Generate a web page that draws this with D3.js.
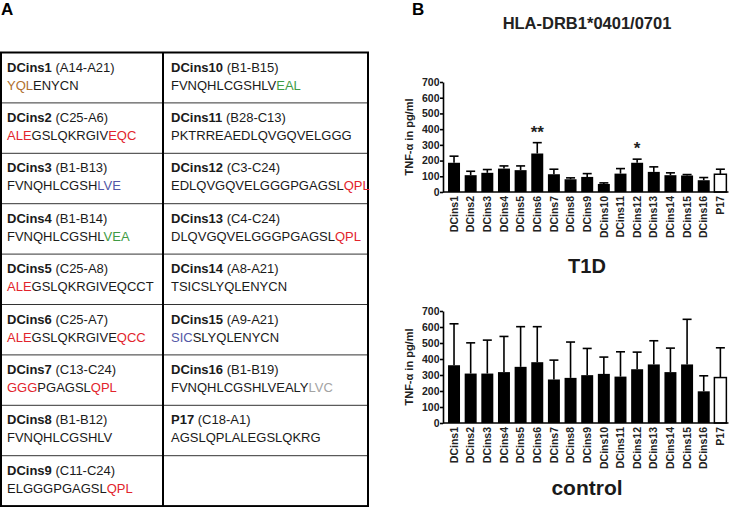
<!DOCTYPE html>
<html><head><meta charset="utf-8">
<script src="https://cdn.jsdelivr.net/npm/d3@7"></script>
<style>body{margin:0;background:#fff}svg{display:block}</style>
</head><body><svg id="c" width="733" height="507"></svg>
<script>
// ---------- data ----------
const categories = ["DCins1","DCins2","DCins3","DCins4","DCins5","DCins6","DCins7","DCins8","DCins9","DCins10","DCins11","DCins12","DCins13","DCins14","DCins15","DCins16","P17"];
const t1dMean   = [186,107,122,149,139,245,113,81,96,51,117,186,128,107,105,75,113];
const t1dUpper  = [228,132,143,166,166,314,145,90,117,58,149,209,160,122,111,92,145];
const controlMean  = [361,309,309,318,351,380,272,282,299,307,290,336,366,318,366,198,284];
const controlUpper = [620,501,518,541,602,602,393,506,466,412,445,443,514,468,648,295,470];
const yTicks = [0,100,200,300,400,500,600,700];
const t1dStars = [["DCins6","**"],["DCins12","*"]];
const openBars = ["P17"];

const peptideNames  = ["DCins1","DCins2","DCins3","DCins4","DCins5","DCins6","DCins7","DCins8","DCins9",
                       "DCins10","DCins11","DCins12","DCins13","DCins14","DCins15","DCins16","P17"];
const peptideRanges = ["(A14-A21)","(C25-A6)","(B1-B13)","(B1-B14)","(C25-A8)","(C25-A7)","(C13-C24)","(B1-B12)","(C11-C24)",
                       "(B1-B15)","(B28-C13)","(C3-C24)","(C4-C24)","(A8-A21)","(A9-A21)","(B1-B19)","(C18-A1)"];
// segments "text|colourcode"
const peptideSeqs = [
  "YQL|o,ENYCN","ALE|r,GSLQKRGIV,EQC|r","FVNQHLCGSH,LVE|b","FVNQHLCGSHL,VEA|g","ALE|r,GSLQKRGIVEQCCT",
  "ALE|r,GSLQKRGIVE,QCC|r","GGG|r,PGAGSL,QPL|r","FVNQHLCGSHLV","ELGGGPGAGSL,QPL|r",
  "FVNQHLCGSHLV,EAL|g","PKTRREAEDLQVGQVELGGG","EDLQVGQVELGGGPGAGSL,QPL|r","DLQVGQVELGGGPGAGSL,QPL|r",
  "TSICSLYQLENYCN","SIC|b,SLYQLENYCN","FVNQHLCGSHLVEALY,LVC|x","AGSLQPLALEGSLQKRG"
];
const colourCodes = {k:"#1a1a1a", o:"#b0702e", r:"#e2242c", b:"#5358a6", g:"#3f9b45", x:"#a3a3a3"};

// ---------- drawing ----------
const svg = d3.select("#c");
svg.append("rect").attr("width",733).attr("height",507).attr("fill","#fff");
const FONT = "'Liberation Sans', Arial, Helvetica, sans-serif";

svg.append("text").attr("x",1).attr("y",15).text("A")
  .attr("font-family",FONT).attr("font-weight","bold").attr("font-size",17);
svg.append("text").attr("x",412).attr("y",15).text("B")
  .attr("font-family",FONT).attr("font-weight","bold").attr("font-size",17);

// ---------- table ----------
const tbl = svg.append("g");
const tX0 = 1, tX1 = 368, tMid = 163, tY0 = 52.5, rowH = 50.4, nRows = 9;
const rowY = d3.range(nRows+1).map(i => tY0 + i*rowH);
rowY.slice(1,-1).forEach(y => tbl.append("line").attr("x1",tX0).attr("x2",tX1).attr("y1",y).attr("y2",y)
  .attr("stroke","#333").attr("stroke-width",1));
tbl.append("rect").attr("x",tX0).attr("y",tY0).attr("width",tX1-tX0).attr("height",rowY[nRows]-tY0)
  .attr("fill","none").attr("stroke","#000").attr("stroke-width",2);
tbl.append("line").attr("x1",tMid).attr("x2",tMid).attr("y1",tY0).attr("y2",rowY[nRows])
  .attr("stroke","#000").attr("stroke-width",2);

peptideNames.forEach((name,i) => {
  const col = i < nRows ? 0 : 1;
  const row = i < nRows ? i : i - nRows;
  const x = col === 0 ? 7 : 171;
  const y = rowY[row];
  const t = tbl.append("text").attr("x",x).attr("y",y+19)
    .attr("font-family",FONT).attr("font-size",13).attr("fill","#1a1a1a");
  t.append("tspan").attr("font-weight","bold").text(name);
  t.append("tspan").text(" " + peptideRanges[i]);
  const s = tbl.append("text").attr("x",x).attr("y",y+37)
    .attr("font-family",FONT).attr("font-size",13);
  peptideSeqs[i].split(",").forEach(seg => {
    const [txt,code] = seg.split("|");
    s.append("tspan").text(txt).attr("fill",colourCodes[code||"k"]);
  });
});

// ---------- charts ----------
svg.append("text").attr("x",587).attr("y",29).attr("text-anchor","middle").text("HLA-DRB1*0401/0701")
  .attr("font-family",FONT).attr("font-weight","bold").attr("font-size",16.5).attr("fill","#222");

const x = d3.scaleBand().domain(categories).range([445.7,728.7]).paddingInner(0.28).paddingOuter(0.14);

function drawChart(means, uppers, y0, y1, stars){
  const y = d3.scaleLinear().domain([0,700]).range([y0,y1]);
  const g = svg.append("g");
  const data = categories.map((c,i)=>({c, m:means[i], u:uppers[i]}));
  data.forEach(d => {
    const cx = x(d.c) + x.bandwidth()/2;
    g.append("line").attr("x1",cx).attr("x2",cx).attr("y1",y(d.m)).attr("y2",y(d.u))
      .attr("stroke","#000").attr("stroke-width",1.6);
    g.append("line").attr("x1",cx-4.5).attr("x2",cx+4.5).attr("y1",y(d.u)).attr("y2",y(d.u))
      .attr("stroke","#000").attr("stroke-width",1.6);
  });
  g.selectAll("rect.bar").data(data).enter().append("rect")
    .attr("x",d=>x(d.c)).attr("width",x.bandwidth())
    .attr("y",d=>y(d.m)).attr("height",d=>y(0)-y(d.m))
    .attr("fill",d=>openBars.includes(d.c)?"#fff":"#000")
    .attr("stroke","#000").attr("stroke-width",d=>openBars.includes(d.c)?1.5:0);
  const ya = g.append("g").attr("transform","translate(443,0)")
    .call(d3.axisLeft(y).tickValues(yTicks).tickSize(3).tickSizeOuter(0).tickFormat(d3.format("d")));
  ya.select(".domain").attr("stroke-width",1.6);
  ya.selectAll(".tick line").attr("stroke-width",1.6);
  ya.selectAll("text").attr("font-family",FONT).attr("font-weight","bold").attr("font-size",10.5)
    .attr("x",-3.5).attr("fill","#222");
  const xa = g.append("g").attr("transform",`translate(0,${y0})`)
    .call(d3.axisBottom(x).tickSize(0).tickSizeOuter(0));
  xa.select(".domain").attr("stroke-width",1.6).attr("d",`M443,0H728.5`);
  xa.selectAll("text").attr("font-family",FONT).attr("font-weight","bold").attr("font-size",10.5)
    .attr("fill","#222")
    .attr("transform","rotate(-90)").attr("text-anchor","end")
    .attr("x",-4).attr("y",0).attr("dy","0.35em");
  g.append("text").attr("transform",`translate(413,${(y0+y1)/2}) rotate(-90)`)
    .attr("text-anchor","middle").text("TNF-α in pg/ml")
    .attr("font-family",FONT).attr("font-weight","bold").attr("font-size",11).attr("fill","#222");
  (stars||[]).forEach(([c,lab]) => {
    const i = categories.indexOf(c);
    g.append("text").attr("x",x(c)+x.bandwidth()/2).attr("y",y(uppers[i])-5)
      .attr("text-anchor","middle").text(lab)
      .attr("font-family",FONT).attr("font-weight","bold").attr("font-size",17).attr("fill","#222");
  });
}

drawChart(t1dMean, t1dUpper, 192, 82, t1dStars);
drawChart(controlMean, controlUpper, 423, 311, []);

svg.append("text").attr("x",587).attr("y",273).attr("text-anchor","middle").text("T1D")
  .attr("font-family",FONT).attr("font-weight","bold").attr("font-size",20).attr("fill","#1a1a1a");
svg.append("text").attr("x",587).attr("y",495).attr("text-anchor","middle").text("control")
  .attr("font-family",FONT).attr("font-weight","bold").attr("font-size",21).attr("fill","#1a1a1a");
</script></body></html>
